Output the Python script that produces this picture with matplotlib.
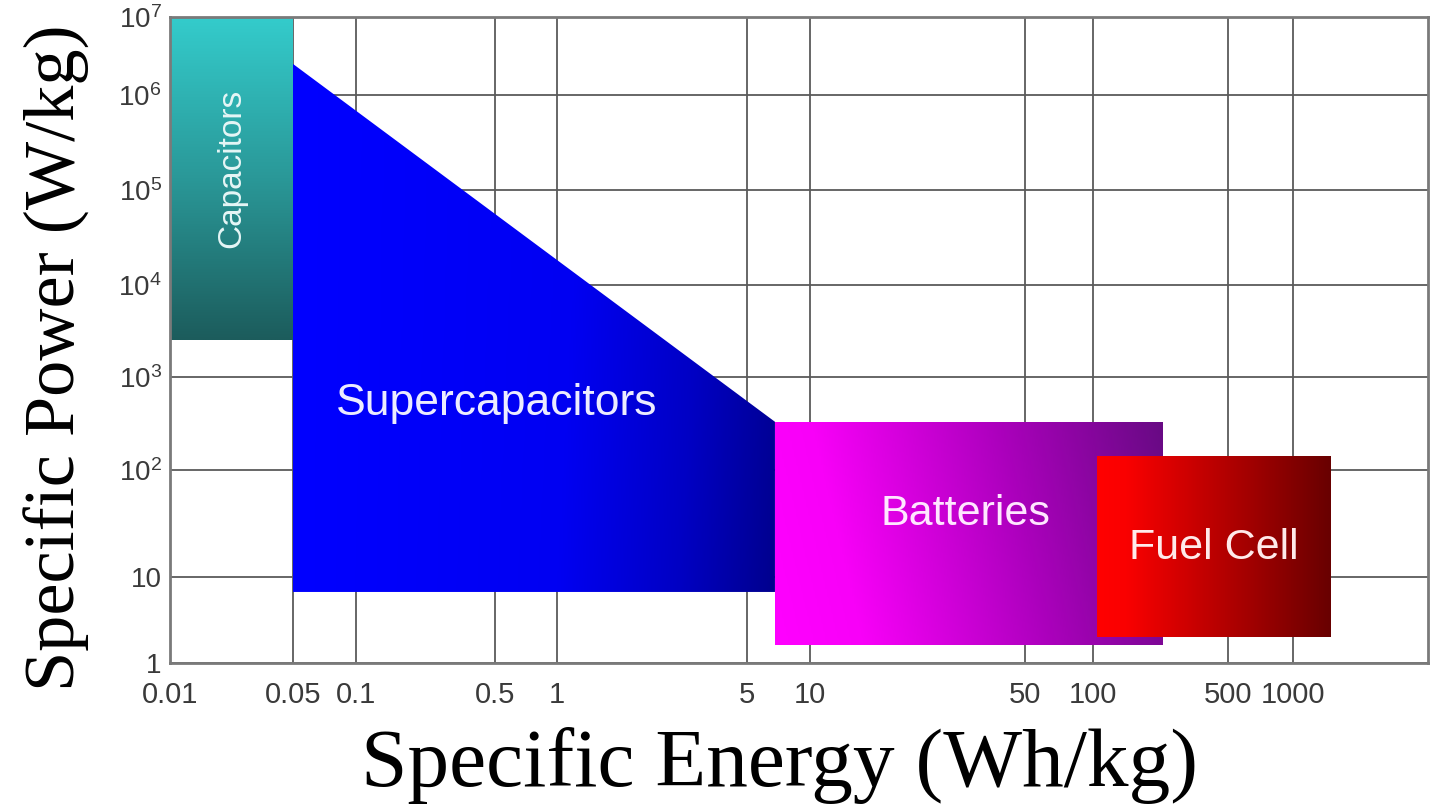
import numpy as np
import matplotlib
matplotlib.use('Agg')
import matplotlib.pyplot as plt
from matplotlib.colors import LinearSegmentedColormap
from matplotlib.patches import Polygon
from matplotlib.ticker import FixedLocator, FixedFormatter

plt.rcParams['font.family'] = ['Liberation Sans', 'DejaVu Sans']
plt.rcParams['mathtext.fontset'] = 'custom'
plt.rcParams['mathtext.rm'] = 'Liberation Sans'

# tick values and labels
energy_ticks = [0.01, 0.05, 0.1, 0.5, 1, 5, 10, 50, 100, 500, 1000]
energy_labels = ['0.01', '0.05', '0.1', '0.5', '1', '5', '10', '50', '100', '500', '1000']
power_ticks = [1, 10, 1e2, 1e3, 1e4, 1e5, 1e6, 1e7]
power_labels = ['1', '10'] + [r'$\mathregular{10^{%d}}$' % k for k in range(2, 8)]

# storage regions: specific energy (Wh/kg) and specific power (W/kg)
capacitor_energy = [0.01, 0.05]
capacitor_power = [2500, 1e7]
supercap_energy = [0.05, 0.05, 6.8, 6.8]
supercap_power = [6.7, 2.5e6, 330, 6.7]
battery_energy = [6.8, 230]
battery_power = [1.6, 330]
fuelcell_energy = [105, 1500]
fuelcell_power = [2.0, 140]

# the grid is drawn with uneven decade spacing, so map log values piecewise
x_knots = np.log10([0.01, 0.05, 0.1, 0.5, 1, 5, 10, 50, 100, 500, 1000, 4200])
x_space = [0, 123, 186, 325, 387, 577, 640, 855, 923, 1058, 1123, 1258]
y_knots = np.arange(8.0)
y_space = [0, 86, 193, 286, 378, 473, 568, 646]


def make_scale(knots, space):
    def fwd(v):
        v = np.clip(np.asarray(v, dtype=float), 1e-12, None)
        return np.interp(np.log10(v), knots, space)

    def inv(t):
        return 10 ** np.interp(np.asarray(t, dtype=float), space, knots)
    return fwd, inv


def rect(xr, yr):
    return [xr[0], xr[1], xr[1], xr[0]], [yr[0], yr[0], yr[1], yr[1]]


def shade(ax, xs, ys, colors, values, z):
    # gradient image laid out in axes space, clipped to the region outline
    poly = Polygon(np.column_stack([xs, ys]), closed=True,
                   facecolor='none', edgecolor='none', zorder=z)
    ax.add_patch(poly)
    to_axes = ax.transScale + ax.transLimits
    (x0, y0), (x1, y1) = to_axes.transform([(min(xs), min(ys)), (max(xs), max(ys))])
    cmap = LinearSegmentedColormap.from_list('g', colors)
    im = ax.imshow(values, cmap=cmap, vmin=0, vmax=1, origin='lower',
                   extent=(x0, x1, y0, y1), transform=ax.transAxes,
                   aspect='auto', interpolation='bilinear', zorder=z)
    im.set_clip_path(poly)
    return im


fig = plt.figure(figsize=(14.32, 8.08), dpi=100)
ax = fig.add_axes([170 / 1432, 145 / 808, 1258 / 1432, 646 / 808])
ax.set_xscale('function', functions=make_scale(x_knots, x_space))
ax.set_yscale('function', functions=make_scale(y_knots, y_space))
ax.set_xlim(0.01, 4200)
ax.set_ylim(1, 1e7)

vert = np.linspace(0, 1, 256)[:, None]
u, v = np.meshgrid(np.linspace(0, 1, 200), np.linspace(0, 1, 200))
sc_vals = np.clip(0.9 * u + 0.1 * (1 - v) * u, 0, 1)
diag = np.clip(0.88 * u + 0.12 * v, 0, 1)

xs, ys = rect(capacitor_energy, capacitor_power)
shade(ax, xs, ys, ['#1c5c5c', '#2a9898', '#34cccc'], vert, 2)
shade(ax, supercap_energy, supercap_power,
      [(0, '#0000ff'), (0.55, '#0000f2'), (0.8, '#0000c4'), (1, '#00008e')], sc_vals, 2)
xs, ys = rect(battery_energy, battery_power)
shade(ax, xs, ys, [(0, '#ff00ff'), (0.2, '#f800f8'), (0.6, '#b000c0'), (1, '#680a84')], diag, 3)
xs, ys = rect(fuelcell_energy, fuelcell_power)
shade(ax, xs, ys, [(0, '#ff0000'), (0.12, '#fa0000'), (1, '#680000')], u, 4)

ax.text(0.0225, 1.7e5, 'Capacitors', rotation=90, ha='center', va='center',
        fontsize=24, color='#e6f6f6', zorder=5)
ax.text(0.08, 525, 'Supercapacitors', ha='left', va='center',
        fontsize=32, color='#ececff', zorder=5)
ax.text(32, 39, 'Batteries', ha='center', va='center',
        fontsize=31, color='#ffe6ff', zorder=5)
ax.text(423, 18.6, 'Fuel Cell', ha='center', va='center',
        fontsize=31, color='#ffeaea', zorder=5)

ax.set_xlim(0.01, 4200)
ax.set_ylim(1, 1e7)
ax.xaxis.set_major_locator(FixedLocator(energy_ticks))
ax.xaxis.set_major_formatter(FixedFormatter(energy_labels))
ax.xaxis.set_minor_locator(FixedLocator([]))
ax.yaxis.set_major_locator(FixedLocator(power_ticks))
ax.yaxis.set_major_formatter(FixedFormatter(power_labels))
ax.yaxis.set_minor_locator(FixedLocator([]))
ax.tick_params(axis='x', length=0, pad=13, labelsize=21, labelcolor='#3a3a3a')
ax.tick_params(axis='y', length=0, pad=6, labelsize=20, labelcolor='#3a3a3a')
ax.set_axisbelow(True)
ax.grid(True, color='#5a5a5a', lw=1.3)
for s in ax.spines.values():
    s.set_color('#7a7a7a')
    s.set_linewidth(2)

fig.text(57 / 1432, 450 / 808, 'Specific Power (W/kg)', rotation=90,
         ha='center', va='center', family='Liberation Serif', fontsize=52)
fig.text(780 / 1432, 43 / 808, 'Specific Energy (Wh/kg)',
         ha='center', va='center', family='Liberation Serif', fontsize=60)

fig.savefig('out.png', dpi=100)
